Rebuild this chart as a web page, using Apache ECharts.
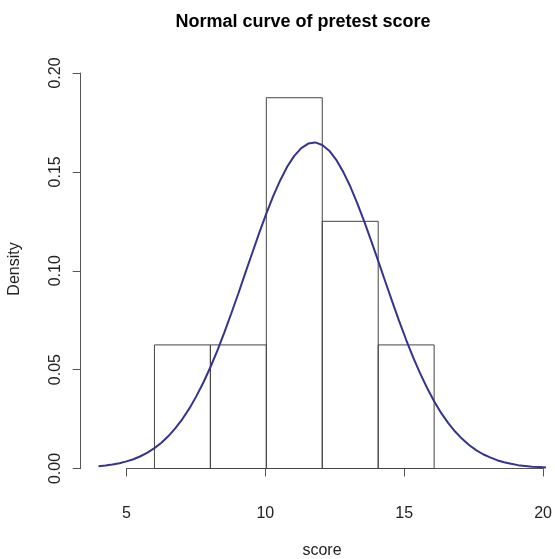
<!DOCTYPE html>
<html>
<head>
<meta charset="utf-8">
<script src="https://cdn.jsdelivr.net/npm/echarts@6/dist/echarts.min.js"></script>
<style>
html,body{margin:0;padding:0;background:#fff;}
#chart{width:555px;height:559px;}
</style>
</head>
<body>
<div id="chart"></div>
<script>
// Histogram bins (left edge, right edge) and densities
var binStarts = [6, 8, 10, 12, 14];
var binEnds = [8, 10, 12, 14, 16];
var binDensity = [0.0625, 0.0625, 0.1875, 0.125, 0.0625];

// Normal curve points
var curveX = [4, 4.25, 4.5, 4.75, 5, 5.25, 5.5, 5.75, 6, 6.25, 6.5, 6.75, 7, 7.25, 7.5, 7.75,
              8, 8.25, 8.5, 8.75, 9, 9.25, 9.5, 9.75, 10, 10.25, 10.5, 10.75, 11, 11.25, 11.5, 11.75,
              12, 12.25, 12.5, 12.75, 13, 13.25, 13.5, 13.75, 14, 14.25, 14.5, 14.75, 15, 15.25, 15.5, 15.75,
              16, 16.25, 16.5, 16.75, 17, 17.25, 17.5, 17.75, 18, 18.25, 18.5, 18.75, 19, 19.25, 19.5, 19.75, 20];
var curveY = [0.0011, 0.0015, 0.0020, 0.0027, 0.0036, 0.0047, 0.0062, 0.0080, 0.0103, 0.0130,
              0.0164, 0.0204, 0.0250, 0.0304, 0.0366, 0.0435, 0.0512, 0.0596, 0.0688, 0.0785,
              0.0885, 0.0989, 0.1091, 0.1193, 0.1289, 0.1379, 0.1458, 0.1527, 0.1581, 0.1620,
              0.1643, 0.1649, 0.1636, 0.1607, 0.1561, 0.1500, 0.1427, 0.1342, 0.1250, 0.1151,
              0.1050, 0.0947, 0.0845, 0.0745, 0.0651, 0.0562, 0.0481, 0.0407, 0.0340, 0.0281,
              0.0231, 0.0187, 0.0150, 0.0119, 0.0093, 0.0072, 0.0056, 0.0042, 0.0032, 0.0024,
              0.0017, 0.0013, 0.0009, 0.0007, 0.0005];

var xTicks = [5, 10, 15, 20];
var yTicks = [0, 0.05, 0.10, 0.15, 0.20];
var curveRange = [4, 20];

var titleText = 'Normal curve of pretest score';
var xLabel = 'score';
var yLabel = 'Density';

var font = '"Liberation Sans", Arial, sans-serif';

var histData = binStarts.map(function (s, i) { return [s, binEnds[i], binDensity[i]]; });
var curveData = curveX.map(function (x, i) { return [x, curveY[i]]; });

var chart = echarts.init(document.getElementById('chart'), null, {renderer: 'canvas'});
chart.setOption({
  animation: false,
  backgroundColor: '#fff',
  grid: [
    {left: 98.5, right: 9, top: 73, bottom: 90.5, containLabel: false},
    {left: 126.5, right: 9, top: 73, bottom: 90.5, containLabel: false}
  ],
  xAxis: [
    {
      gridIndex: 0, type: 'value', min: curveRange[0], max: curveRange[1],
      show: false
    },
    {
      gridIndex: 1, type: 'value', min: xTicks[0], max: xTicks[xTicks.length - 1], interval: 5,
      offset: 16.5,
      axisLine: {show: true, lineStyle: {color: '#555', width: 1}},
      axisTick: {show: true, length: 8, lineStyle: {color: '#555'}},
      axisLabel: {margin: 21, fontSize: 16, color: '#222', fontFamily: font},
      splitLine: {show: false}
    }
  ],
  yAxis: [
    {
      gridIndex: 0, type: 'value', min: yTicks[0], max: yTicks[yTicks.length - 1], interval: 0.05,
      offset: 17.8,
      axisLine: {show: true, lineStyle: {color: '#555', width: 1}},
      axisTick: {show: true, length: 8, lineStyle: {color: '#555'}},
      axisLabel: {margin: 17, fontSize: 16, color: '#222', fontFamily: font, rotate: 90,
        formatter: function (v) { return v.toFixed(2); }},
      splitLine: {show: false}
    },
    {
      gridIndex: 1, type: 'value', min: yTicks[0], max: yTicks[yTicks.length - 1],
      show: false
    }
  ],
  graphic: [
    {type: 'text', x: 303, y: 22, style: {text: titleText, font: 'bold 18px ' + font, fill: '#000', align: 'center', verticalAlign: 'middle'}},
    {type: 'text', x: 322, y: 551, style: {text: xLabel, font: '16px ' + font, fill: '#222', align: 'center', verticalAlign: 'middle'}},
    {type: 'text', x: 15, y: 269, rotation: Math.PI / 2, style: {text: yLabel, font: '16px ' + font, fill: '#222', align: 'center', verticalAlign: 'middle'}}
  ],
  series: [
    {
      type: 'custom',
      xAxisIndex: 0, yAxisIndex: 0,
      data: histData,
      renderItem: function (params, api) {
        var p0 = api.coord([api.value(0), 0]);
        var p1 = api.coord([api.value(1), api.value(2)]);
        return {
          type: 'rect',
          shape: {x: p0[0], y: p1[1], width: p1[0] - p0[0], height: p0[1] - p1[1]},
          style: {fill: 'none', stroke: '#444', lineWidth: 1}
        };
      },
      encode: {x: [0, 1], y: 2},
      z: 2
    },
    {
      type: 'line',
      xAxisIndex: 0, yAxisIndex: 0,
      data: curveData,
      smooth: false,
      showSymbol: false,
      lineStyle: {color: '#34348c', width: 2},
      z: 3
    }
  ]
});
</script>
</body>
</html>
